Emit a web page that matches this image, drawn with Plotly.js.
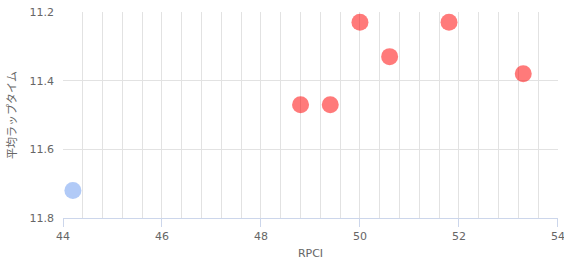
<!DOCTYPE html>
<html><head><meta charset="utf-8">
<script src="https://cdn.plot.ly/plotly-3.0.1.min.js"></script>
<style>html,body{margin:0;padding:0;background:#fff;}#chart{width:564px;height:260px;}</style>
</head><body><div id="chart"></div>
<script>
const blueX = [44.2];
const blueY = [11.72];
const redX = [48.8, 49.4, 50.0, 50.6, 51.8, 53.3];
const redY = [11.47, 11.47, 11.23, 11.33, 11.23, 11.38];
const xTicks = [44, 46, 48, 50, 52, 54];
const yTicks = [11.2, 11.4, 11.6, 11.8];
const xTitle = 'RPCI';
const yTitle = '平均ラップタイム';

const font = 'Verdana, "DejaVu Sans", "Noto Sans CJK JP", sans-serif';
const traces = [
  {x: blueX, y: blueY, type: 'scatter', mode: 'markers', hoverinfo: 'none',
   marker: {size: 17, color: 'rgba(100,150,240,0.5)', line: {width: 0}}},
  {x: redX, y: redY, type: 'scatter', mode: 'markers', hoverinfo: 'none',
   marker: {size: 17, color: 'rgba(255,0,0,0.52)', line: {width: 0}}}
];
const layout = {
  width: 564, height: 260,
  margin: {l: 63, r: 6, t: 12, b: 42},
  showlegend: false,
  paper_bgcolor: '#fff', plot_bgcolor: '#fff',
  font: {family: font, size: 11, color: '#666'},
  xaxis: {
    range: [44, 54.002], tickmode: 'array', tickvals: xTicks, ticktext: xTicks.map(String),
    ticklabeloverflow: 'allow',
    showgrid: true, gridcolor: '#e2e2e2', gridwidth: 1,
    minor: {dtick: 0.4, tick0: 44, showgrid: true, gridcolor: '#e2e2e2', gridwidth: 1, ticks: ''},
    showline: true, linecolor: '#ccd6eb', linewidth: 1,
    ticks: 'outside', ticklen: 8, tickcolor: '#ccd6eb', tickwidth: 1,
    zeroline: false,
    tickfont: {family: font, size: 11, color: '#666'},
    title: {text: xTitle, font: {family: font, size: 11, color: '#666'}, standoff: 12}
  },
  yaxis: {
    range: [11.8, 11.2], tickmode: 'array', tickvals: yTicks, ticktext: yTicks.map(v => v.toFixed(1)),
    showgrid: true, gridcolor: '#e2e2e2', gridwidth: 1,
    showline: false, ticks: '', zeroline: false,
    ticklabelstandoff: 8,
    tickfont: {family: font, size: 11, color: '#666'},
    title: {text: yTitle, font: {family: font, size: 11, color: '#666'}, standoff: 10}
  }
};
Plotly.newPlot('chart', traces, layout, {displayModeBar: false, staticPlot: true});
</script></body></html>
